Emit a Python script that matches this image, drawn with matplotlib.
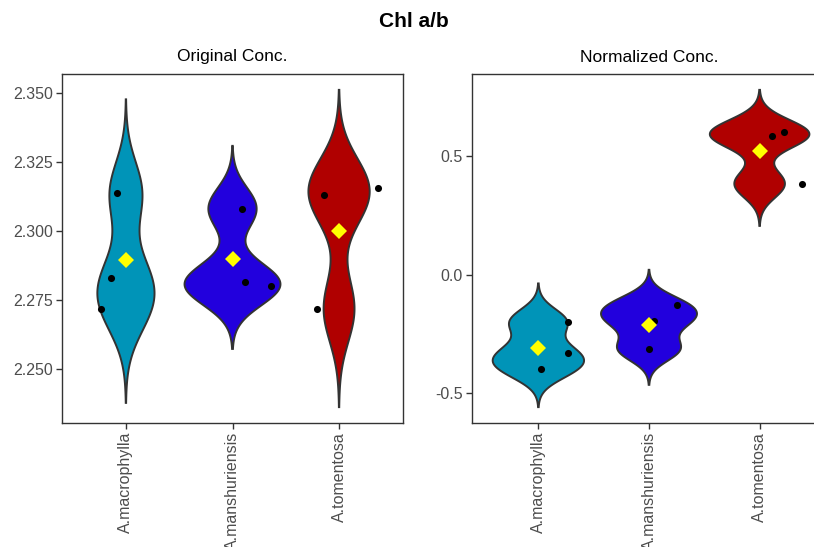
import numpy as np
import matplotlib
matplotlib.use("Agg")
import matplotlib.pyplot as plt

plt.rcParams['font.family'] = ['Liberation Sans', 'DejaVu Sans']

species = ["A.macrophylla", "A.manshuriensis", "A.tomentosa"]
fill_colors = ["#0094B8", "#2200DD", "#B00000"]

# Chl a/b, original concentration (three samples per species)
orig_macrophylla = [2.2717, 2.2829, 2.3137]
orig_manshuriensis = [2.3081, 2.2814, 2.2800]
orig_tomentosa = [2.2717, 2.3130, 2.3156]

# Chl a/b, normalized concentration
norm_macrophylla = [-0.199, -0.331, -0.399]
norm_manshuriensis = [-0.130, -0.197, -0.316]
norm_tomentosa = [0.585, 0.604, 0.384]

# horizontal jitter applied to the sample points (category units)
orig_jitter = [[-0.235, -0.14, -0.085], [0.087, 0.116, 0.36], [-0.21, -0.14, 0.37]]
norm_jitter = [[0.265, 0.27, 0.02], [0.256, 0.048, 0.0], [0.115, 0.22, 0.38]]


def bw_nrd0(x):
    x = np.asarray(x, float)
    hi = np.std(x, ddof=1)
    q75, q25 = np.percentile(x, [75, 25])
    lo = min(hi, (q75 - q25) / 1.34)
    if not lo:
        lo = hi or abs(x[0]) or 1.0
    return 0.9 * lo * len(x) ** -0.2


def density(x, cut=3, n=512):
    x = np.asarray(x, float)
    bw = bw_nrd0(x)
    grid = np.linspace(x.min() - cut * bw, x.max() + cut * bw, n)
    z = (grid[:, None] - x[None, :]) / bw
    d = np.exp(-0.5 * z ** 2).sum(axis=1) / (len(x) * bw * np.sqrt(2 * np.pi))
    return grid, d


def violin_panel(ax, groups, jitter, title):
    dens = [density(g) for g in groups]
    dmax = max(d.max() for _, d in dens)
    lo = min(y.min() for y, _ in dens)
    hi = max(y.max() for y, _ in dens)
    for i, ((y, d), g) in enumerate(zip(dens, groups)):
        pos = i + 1
        half = d / dmax * 0.45
        xs = np.concatenate([pos - half, (pos + half)[::-1]])
        ys = np.concatenate([y, y[::-1]])
        ax.fill(xs, ys, facecolor=fill_colors[i], edgecolor="#333333",
                linewidth=1.4, zorder=2)
        ax.scatter(pos + np.asarray(jitter[i]), g, s=26, color="black",
                   linewidths=0, zorder=3)
        ax.plot([pos], [np.mean(g)], marker="D", ms=8, color="#FFFF00",
                markeredgewidth=0, linestyle="none", zorder=4)
    pad = (hi - lo) * 0.05
    ax.set_ylim(lo - pad, hi + pad)
    ax.set_xlim(0.4, 3.6)
    ax.set_xticks([1, 2, 3])
    ax.set_xticklabels(species, rotation=90)
    ax.tick_params(axis="both", direction="out", length=4, width=1.0,
                   color="#333333", labelsize=11.5, labelcolor="#4D4D4D", pad=2.5)
    for sp in ax.spines.values():
        sp.set_color("#333333")
        sp.set_linewidth(1.0)
    ax.set_title(title, fontsize=12.5, pad=9, color="black")


fig = plt.figure(figsize=(8.14, 5.47), dpi=100)
W, H = 814.0, 547.0
ax1 = fig.add_axes([62 / W, 1 - 423 / H, 341 / W, 349 / H])
ax2 = fig.add_axes([472 / W, 1 - 423 / H, 354 / W, 349 / H])

violin_panel(ax1, [orig_macrophylla, orig_manshuriensis, orig_tomentosa],
             orig_jitter, "Original Conc.")
ax1.set_yticks([2.250, 2.275, 2.300, 2.325, 2.350])
ax1.set_yticklabels(["2.250", "2.275", "2.300", "2.325", "2.350"])

violin_panel(ax2, [norm_macrophylla, norm_manshuriensis, norm_tomentosa],
             norm_jitter, "Normalized Conc.")
ax2.set_yticks([-0.5, 0.0, 0.5])
ax2.set_yticklabels(["-0.5", "0.0", "0.5"])

fig.text(414 / W, 1 - 27 / H, "Chl a/b", ha="center", va="baseline",
         fontsize=15, fontweight="bold")

fig.savefig("out.png", dpi=100)
